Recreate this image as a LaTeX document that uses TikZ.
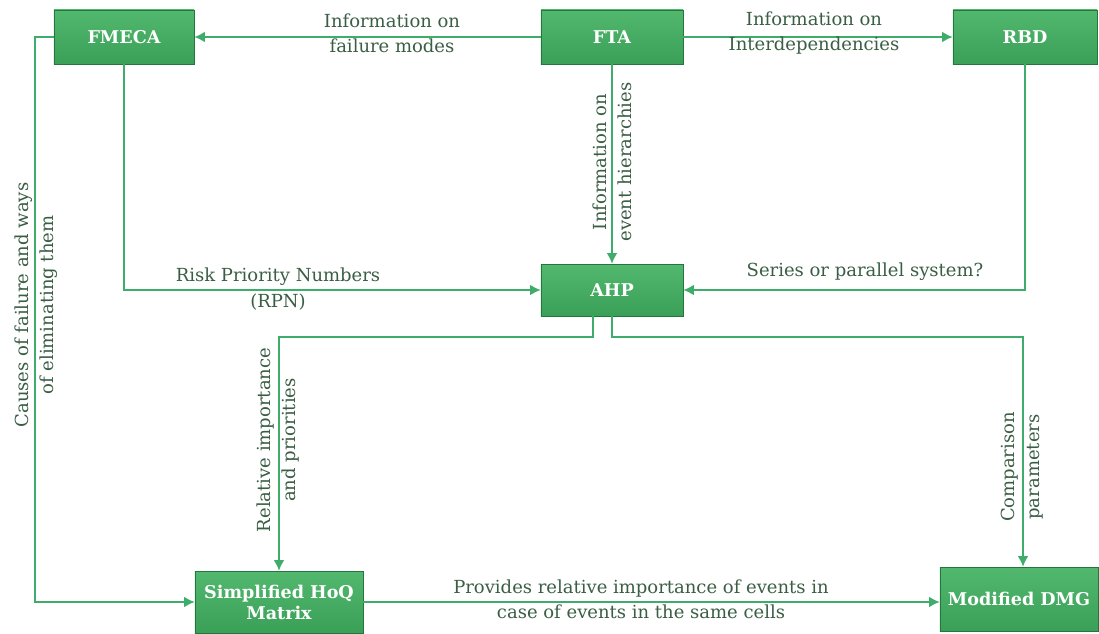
\documentclass[tikz,border=0pt]{standalone}
\usepackage{fontspec}
\setmainfont{DejaVu Serif}
\usepackage{tikz}
\usetikzlibrary{arrows.meta,shapes,positioning,shadows}
\usepackage{xcolor}
\definecolor{hqgreen}{RGB}{58,160,88}
\definecolor{hqlightgreen}{RGB}{82,184,110}
\definecolor{hqdarkgreen}{RGB}{36,118,62}
\definecolor{hqline}{RGB}{62,172,106}
\definecolor{hqtext}{RGB}{58,94,68}
\tikzstyle{arrow} = [line width=1pt,->,>={Latex[length=7.5pt,width=7.5pt]},color=hqline]
\tikzstyle{toolbox} = [rectangle, minimum width=3.55cm, minimum height=1.35cm, text centered, align=center, draw=hqdarkgreen, top color=hqlightgreen, bottom color=hqgreen, text=white, font=\bfseries\fontsize{12.5}{15}\selectfont, drop shadow={opacity=0.2, shadow xshift=0.6pt, shadow yshift=-0.6pt}]
\tikzstyle{flowlabel} = [text=hqtext, align=center, inner sep=1pt, font=\fontsize{12.8}{18}\selectfont]

\begin{document}
\begin{tikzpicture}[x=0.025cm, y=-0.025cm]
\useasboundingbox (0,0) rectangle (1099,633);

% Tools on top
\node (fmeca) [toolbox, minimum width=3.5cm] at (124,37) {FMECA};
\node (fta) [toolbox] at (612,37) {FTA};
\node (rbd) [toolbox, minimum width=3.6cm] at (1025,37) {RBD};

% Central step
\node (ahp) [toolbox, minimum height=1.3cm] at (612,290) {AHP};

% Outputs
\node (hoq) [toolbox, minimum width=4.2cm, minimum height=1.55cm] at (279,602) {Simplified HoQ\\Matrix};
\node (dmg) [toolbox, minimum width=3.95cm, minimum height=1.6cm] at (1019,599) {Modified DMG};

% Bends
\coordinate (cleft) at (35,37);
\coordinate (jleft) at (593,337);
\coordinate (jright) at (1023,337);

\draw[arrow] (fta) -- (fmeca);
\draw[arrow] (fta) -- (rbd);
\draw[arrow] (fta) -- (ahp);
\draw[arrow] (fmeca.south) |- (ahp.west);
\draw[arrow] (rbd.south) |- (ahp.east);
\draw[arrow] (fmeca.west) -- (cleft) |- (hoq.west);
\draw[arrow] (ahp.south -| jleft) -- (jleft) -| (hoq.north);
\draw[arrow] (ahp.south) |- (jright) -- (jright |- dmg.north);
\draw[arrow] (hoq.east) -- (hoq.east -| dmg.west);

% Labels
\node (lfail) [flowlabel] at (392,33) {Information on\\failure modes};
\node (linter) [flowlabel] at (814,33) {Information on\\Interdependencies};
\node (levent) [flowlabel, rotate=90] at (612,162) {Information on\\event hierarchies};
\node (lrpn) [flowlabel] at (278,289) {Risk Priority Numbers\\(RPN)};
\node (lseries) [flowlabel] at (865,272) {Series or parallel system?};
\node (lcause) [flowlabel, rotate=90] at (36,305) {Causes of failure and ways\\of eliminating them};
\node (lrel) [flowlabel, rotate=90] at (278,440) {Relative importance\\and priorities};
\node (lcomp) [flowlabel, rotate=90] at (1022,467) {Comparison\\parameters};
\node (lprov) [flowlabel] at (641,599) {Provides relative importance of events in\\case of events in the same cells};
\end{tikzpicture}
\end{document}
